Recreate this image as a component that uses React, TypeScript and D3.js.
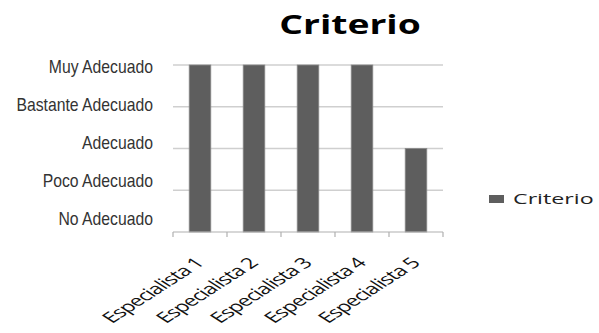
import React from 'react';
import * as d3 from 'd3';

const specialists = ['Especialista 1', 'Especialista 2', 'Especialista 3', 'Especialista 4', 'Especialista 5'];
const criterio = [4, 4, 4, 4, 2];
const levels = ['No Adecuado', 'Poco Adecuado', 'Adecuado', 'Bastante Adecuado', 'Muy Adecuado'];

const App = () => {
  const width = 599;
  const height = 333;
  const margin = { left: 173, right: 156, top: 65, bottom: 101 };
  const innerW = width - margin.left - margin.right;
  const innerH = height - margin.top - margin.bottom;

  const x = d3.scaleBand().domain(specialists).range([0, innerW]).paddingInner(0.6).paddingOuter(0.3);
  const xTicks = d3.scaleBand().domain(specialists).range([0, innerW]);
  const y = d3.scaleLinear().domain([0, levels.length - 1]).range([innerH, 0]);
  // labels in the original sit a bit tighter than the gridlines
  const yLabel = d3.scaleLinear().domain([0, levels.length - 1]).range([innerH - 14, 1]);

  const tickXs = specialists.map((s) => xTicks(s) as number).concat([innerW]);

  return (
    <svg width={width} height={height} style={{ position: 'absolute', left: 0, top: 0 }}>
      <rect width={width} height={height} fill="#fff" />
      <g transform="translate(350, 34) scale(1.38, 1)">
        <text textAnchor="middle" fontFamily="'Open Sans', sans-serif" fontWeight="bold" fontSize={27} fill="#000">
          Criterio
        </text>
      </g>
      <g transform={`translate(${margin.left}, ${margin.top})`}>
        {y.ticks(levels.length - 1).map((t) =>
          t === 0 ? null : (
            <line key={t} x1={0} x2={innerW} y1={y(t)} y2={y(t)} stroke="#cfcfcf" strokeWidth={1.5} />
          )
        )}
        {levels.map((l, i) => (
          <g key={l} transform={`translate(-20, ${yLabel(i)}) scale(0.83, 1)`}>
            <text
              dy="0.35em"
              textAnchor="end"
              fontFamily="'Liberation Sans', Arial, sans-serif"
              fontSize={19}
              fill="#333"
            >
              {l}
            </text>
          </g>
        ))}
        {specialists.map((s, i) => (
          <rect
            key={s}
            x={x(s)}
            y={y(criterio[i])}
            width={x.bandwidth()}
            height={innerH - y(criterio[i])}
            fill="#5e5e5e"
            stroke="#8a8a8a"
            strokeWidth={0.8}
          />
        ))}
        <line x1={0} x2={innerW} y1={innerH} y2={innerH} stroke="#b0b0b0" strokeWidth={1.2} />
        {tickXs.map((t, i) => (
          <line key={i} x1={t} x2={t} y1={innerH} y2={innerH + 5} stroke="#b0b0b0" strokeWidth={1.2} />
        ))}
        {specialists.map((s) => {
          const cx = (xTicks(s) as number) + xTicks.bandwidth() / 2 + 5;
          return (
            <g key={s} transform={`translate(${cx}, ${innerH + 32}) scale(1.55, 1) rotate(-45)`}>
              <text
                textAnchor="end"
                fontFamily="'Open Sans', sans-serif"
                fontSize={15}
                letterSpacing={-0.6}
                fill="#111"
              >
                {s}
              </text>
            </g>
          );
        })}
      </g>
      <g transform="translate(489, 195)">
        <rect width={15} height={8} fill="#5e5e5e" />
        <g transform="translate(24, 9) scale(1.55, 1)">
          <text fontFamily="'Open Sans', sans-serif" fontSize={15} fill="#222">
            Criterio
          </text>
        </g>
      </g>
    </svg>
  );
};

export default App;
